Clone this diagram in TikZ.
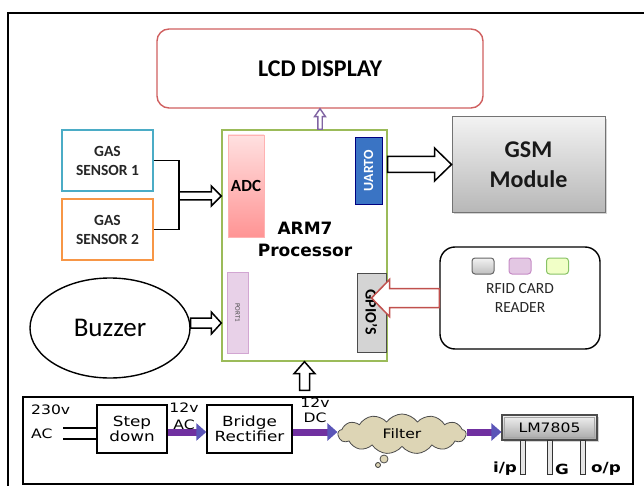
\documentclass[tikz,border=0pt]{standalone}
\usepackage{fontspec}
\setmainfont{Carlito}
\newfontfamily\dvs{DejaVu Sans}
\newfontfamily\vfont[FakeStretch=1.2]{DejaVu Sans}
\usetikzlibrary{shapes.geometric,shapes.symbols,shadows,calc,arrows.meta}

\definecolor{lcdred}{HTML}{D06060}
\definecolor{armgreen}{HTML}{9BBB59}
\definecolor{gascyan}{HTML}{4BACC6}
\definecolor{gasorange}{HTML}{F79646}
\definecolor{arrred}{HTML}{C0504D}
\definecolor{lcdarrow}{HTML}{8064A2}
\definecolor{pshaft}{HTML}{7030A0}
\definecolor{phead}{HTML}{5B55B8}
\definecolor{cloudfill}{HTML}{DDD5B5}
\definecolor{uartblue}{HTML}{3A74C4}
\definecolor{uartlight}{HTML}{5A92DA}

% horizontal hollow arrow: style, from, to, shaft half, head half, head length (signed)
\newcommand\harrow[6]{\draw[#1] let \p1=(#2), \p2=(#3) in
  (\x1,{\y1-#4}) -- ({\x2-(#6)},{\y1-#4}) -- ({\x2-(#6)},{\y1-#5}) -- (\x2,\y1)
  -- ({\x2-(#6)},{\y1+#5}) -- ({\x2-(#6)},{\y1+#4}) -- (\x1,{\y1+#4}) -- cycle;}
% vertical hollow arrow (upwards)
\newcommand\varrow[6]{\draw[#1] let \p1=(#2), \p2=(#3) in
  ({\x1-#4},\y1) -- ({\x1-#4},{\y2-(#6)}) -- ({\x1-#5},{\y2-(#6)}) -- (\x1,\y2)
  -- ({\x1+#5},{\y2-(#6)}) -- ({\x1+#4},{\y2-(#6)}) -- ({\x1+#4},\y1) -- cycle;}

\begin{document}
\begin{tikzpicture}[x=1pt,y=-1pt,
  wire/.style={line width=1.8pt},
  hol/.style={draw=black, fill=white, line width=1.5pt, line join=miter},
  holred/.style={draw=arrred, fill=white, line width=1.5pt},
  holpurple/.style={draw=lcdarrow, fill=white, line width=1.4pt},
  gasst/.style={line width=1.4pt, minimum width=91pt, minimum height=61pt, align=center,
    font=\fontsize{15.5}{19}\selectfont\bfseries, text=black!85},
  bbox/.style={draw, line width=1.4pt, minimum height=48pt, align=center, inner sep=0pt,
    font=\vfont\fontsize{14}{15}\selectfont},
  parrow/.style={draw=pshaft, line width=7pt, -{Triangle[length=10pt,width=17pt,color=phead]}},
  sq/.style={rounded corners=3pt, minimum width=22pt, minimum height=16pt, line width=1pt, inner sep=0pt},
  pinst/.style={draw=black!80, fill=gray!20, line width=1pt},
  pinlab/.style={font=\vfont\bfseries\fontsize{14}{16}\selectfont, inner sep=0pt}
]
\useasboundingbox (0,0) rectangle (644,486);
\clip (0,0) rectangle (644,486);

% outer frame
\draw[line width=2.5pt] (8,13) rectangle (700,560);

% LCD
\node[draw=lcdred, line width=1.4pt, rounded corners=12pt, minimum width=326pt, minimum height=79pt,
  font=\fontsize{24}{26}\selectfont\bfseries] (lcd) at (320,68.5) {LCD DISPLAY};

% ARM block
\node[draw=armgreen, line width=1.4pt, minimum width=165pt, minimum height=231pt] (arm) at (304.5,245.5) {};
\node[draw=red!30, line width=0.8pt, top color=red!12, bottom color=red!42, minimum width=36pt, minimum height=102pt,
  inner sep=0pt, font=\fontsize{17}{19}\selectfont\bfseries] (adc) at (246,186) {ADC};
\node[draw=blue!50!black, line width=0.6pt, rotate=90, fill=uartblue,
  minimum width=67pt, minimum height=27pt, inner sep=0pt, text=white,
  font=\fontsize{14}{16}\selectfont\bfseries] (uart) at (368.5,170.5) {UARTO};
\node[draw=violet!35, line width=0.8pt, rotate=-90, fill=violet!18,
  minimum width=81pt, minimum height=21pt, inner sep=0pt, text=black!70,
  font=\fontsize{7}{8}\selectfont] (port) at (237.5,312.5) {PORT1};
\node[draw=black!70, line width=0.8pt, rotate=-90, fill=black!17,
  minimum width=79pt, minimum height=29pt, inner sep=0pt,
  font=\fontsize{16}{18}\selectfont\bfseries] (gpio) at (371.5,312.5) {GPIO'S};
\node[align=center, font=\dvs\bfseries\fontsize{17}{22}\selectfont] (armtxt) at (305,239) {ARM7\\Processor};

% gas sensors
\node[gasst, draw=gascyan] (gas1) at (107.5,160.5) {GAS\\SENSOR 1};
\node[gasst, draw=gasorange] (gas2) at (107.5,229.5) {GAS\\SENSOR 2};
\coordinate (jn) at (179,196);
\draw[wire] (gas1.east) -| (jn) |- (gas2.east);
\harrow{hol}{jn}{jn -| arm.west}{4pt}{10pt}{10pt}

% buzzer
\node[draw, ellipse, line width=1.4pt, minimum width=160pt, minimum height=100pt,
  font=\fontsize{27}{30}\selectfont] (buzzer) at (110,328) {Buzzer};
\coordinate (bz) at ($(buzzer.east)+(0,-5)$);
\harrow{hol}{bz}{bz -| arm.west}{5pt}{11pt}{10pt}

% GSM
\node[draw=black!55, line width=1pt, top color=black!5, bottom color=black!28, minimum width=153pt, minimum height=95pt,
  align=center, font=\fontsize{24}{30}\selectfont\bfseries, text=black!90,
  drop shadow={shadow xshift=2pt, shadow yshift=-2pt, opacity=0.35}] (gsm) at (528.5,164.5) {GSM\\Module};
\harrow{hol}{arm.east |- gsm.west}{gsm.west}{8pt}{16.5pt}{17pt}

% RFID
\node[draw, line width=1.4pt, rounded corners=15pt, minimum width=160pt, minimum height=102pt, align=center,
  font=\fontsize{15.5}{19}\selectfont, text=black!85] (rfid) at (520,298) {RFID CARD\\READER};
\node[sq, draw=black!60, top color=black!5, bottom color=black!25] (sq1) at (483,266) {};
\node[sq, draw=violet!45, fill=violet!22] (sq2) at (520,266) {};
\node[sq, draw=green!50!lime!60!black!60, fill=lime!22] (sq3) at (557.5,266) {};
\harrow{holred}{rfid.west}{rfid.west -| gpio.east}{9.5pt}{18.5pt}{-18pt}

% LCD arrow
\varrow{holpurple}{arm.north -| lcd.south}{lcd.south}{2.2pt}{5.5pt}{8pt}

% power section
\node[draw, line width=1.4pt, minimum width=610pt, minimum height=87pt] (pbox) at (328,440.5) {};
\coordinate (pw) at ($(arm.south |- pbox.north)+(0,-6)$);
\varrow{hol}{pw}{arm.south}{5pt}{10.5pt}{12pt}

\node[anchor=west, align=left, inner sep=0pt, font=\vfont\fontsize{13}{24}\selectfont] (acin) at (31,421.5) {230v\\AC};
\node[bbox, minimum width=70pt] (stepdn) at (132,429) {Step\\down};
\node[bbox, minimum width=85pt] (bridge) at (249.5,429) {Bridge\\Rectifier};
\coordinate (in1) at (63,428);
\coordinate (in2) at (63,439);
\draw[wire] (in1) -- (in1 -| stepdn.west);
\draw[wire] (in2) -- (in2 -| stepdn.west);

\node[cloud, cloud puffs=13, cloud puff arc=110, aspect=3, draw=black!70, line width=0.8pt, fill=cloudfill, minimum width=128pt,
  minimum height=40pt, inner sep=0pt, font=\vfont\fontsize{13}{15}\selectfont] (filter) at (402,434) {Filter};
\draw[draw=black!70, fill=cloudfill, line width=0.8pt] (384,459) circle (4pt);
\draw[draw=black!80, fill=cloudfill, line width=0.8pt] (378,465) circle (2.5pt);

\node[draw=black!70, line width=1.2pt, top color=black!5, bottom color=black!35, minimum width=95pt, minimum height=25pt,
  inner sep=0pt, font=\vfont\fontsize{13}{15}\selectfont,
  drop shadow={shadow xshift=1.5pt, shadow yshift=-1.5pt, opacity=0.35}] (lm) at (549.5,427.5) {LM7805};
\draw[black!35, line width=0.6pt] ($(lm.south west)+(3,-3)$) rectangle ($(lm.north east)+(-3,3)$);
\foreach \px in {523,550,583} \draw[pinst] (\px-2.5,440) rectangle (\px+2.5,474);
\node[pinlab] (lip) at (505,469) {i/p};
\node[pinlab] (lg) at (562,469) {G};
\node[pinlab] (lop) at (606,469) {o/p};

\coordinate (pl) at (0,432);
\draw[parrow] (stepdn.east |- pl) -- (bridge.west |- pl);
\draw[parrow] (bridge.east |- pl) -- (filter.west |- pl);
\draw[parrow] (filter.east |- pl) -- (lm.west |- pl);
\node[align=center, inner sep=0pt, font=\vfont\fontsize{13}{17}\selectfont] (l12ac) at (184,416) {12v\\AC};
\node[align=center, inner sep=0pt, font=\vfont\fontsize{13}{15}\selectfont] (l12dc) at (315,410) {12v\\DC};
\end{tikzpicture}
\end{document}
